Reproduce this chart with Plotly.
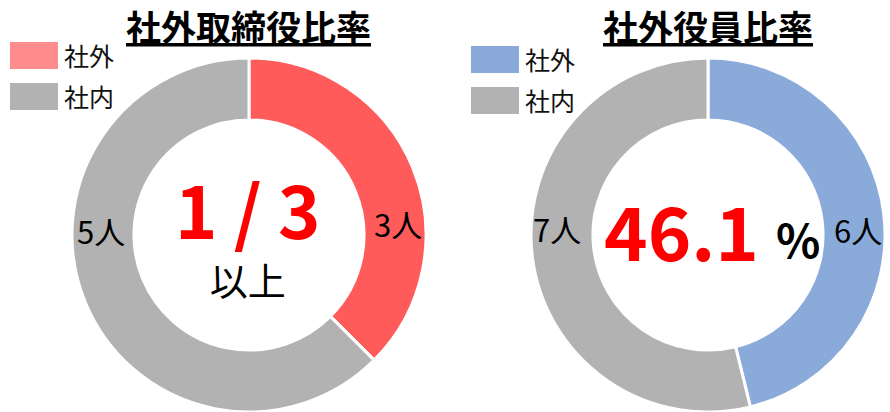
import math
import plotly.graph_objects as go

W, H = 890, 412

labels = ['社外', '社内']
directors = [3, 5]
officers = [6, 7]

director_colors = ['#FF5B5B', '#B2B2B2']
director_legend_colors = ['#FF8C8C', '#B2B2B2']
officer_colors = ['#8AABDA', '#B2B2B2']

FONT = 'Noto Sans CJK JP'


def px_x(x):
    return x / W


def px_y(y):
    return 1 - y / H


def add_donut(fig, values, colors, cx, name):
    r = 177
    fig.add_trace(go.Pie(
        labels=labels,
        values=values,
        name=name,
        hole=0.65,
        sort=False,
        direction='clockwise',
        rotation=0,
        textinfo='none',
        marker=dict(colors=colors, line=dict(color='white', width=3)),
        domain=dict(x=[px_x(cx - r), px_x(cx + r)], y=[0, px_y(H - 2 * r)]),
        showlegend=False
    ))


def add_legend(fig, colors, x0, y0):
    for i, (lab, col) in enumerate(zip(labels, colors)):
        top = y0 + i * 41
        fig.add_shape(type='rect', xref='paper', yref='paper',
                      x0=px_x(x0), x1=px_x(x0 + 48), y0=px_y(top), y1=px_y(top + 27),
                      fillcolor=col, line=dict(width=0))
        fig.add_annotation(x=px_x(x0 + 52), y=px_y(top + 13), text=lab, showarrow=False,
                           xanchor='left', yanchor='middle',
                           font=dict(size=25, color='#111111', family=FONT))


def add_text(fig, x, y, text, size, color='black', bold=False):
    if bold:
        text = '<b>' + text + '</b>'
    fig.add_annotation(x=px_x(x), y=px_y(y), text=text, showarrow=False,
                       xanchor='center', yanchor='middle',
                       font=dict(size=size, color=color, family=FONT))


fig = go.Figure()
add_donut(fig, directors, director_colors, 249, '社外取締役比率')
add_donut(fig, officers, officer_colors, 708, '社外役員比率')

add_legend(fig, director_legend_colors, 10, 42)
add_legend(fig, officer_colors, 471, 46)

# titles
add_text(fig, 249, 26, '<u>社外取締役比率</u>', 35, bold=True)
add_text(fig, 708, 26, '<u>社外役員比率</u>', 35, bold=True)

# slice labels
add_text(fig, 398, 223, f'{directors[0]}人', 31)
add_text(fig, 101, 230, f'{directors[1]}人', 31)
add_text(fig, 858, 229, f'{officers[0]}人', 31)
add_text(fig, 557, 228, f'{officers[1]}人', 31)

# centre texts
add_text(fig, 248, 230,
         '<span style="font-size:72px;color:#FF0000"><b>1 / 3</b></span><br>'
         '<span style="font-size:38px">以上</span>', 43)
pct = math.floor(officers[0] / sum(officers) * 1000) / 10
add_text(fig, 681, 228, f'{pct}', 74, color='#FF0000', bold=True)
add_text(fig, 798, 238, '%', 46, bold=True)

fig.update_layout(
    width=W, height=H,
    margin=dict(l=0, r=0, t=0, b=0),
    paper_bgcolor='white',
    plot_bgcolor='white'
)

fig.write_html('out.html', config={'displayModeBar': False},
               post_script="document.body.style.margin='0';")
